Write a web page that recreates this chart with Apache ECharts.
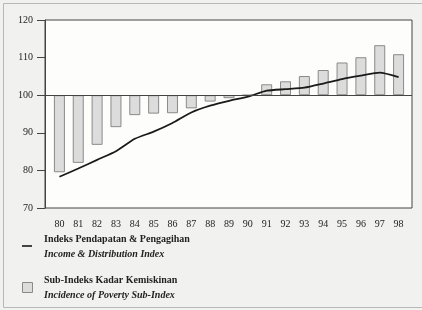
<!DOCTYPE html>
<html>
<head>
<meta charset="utf-8">
<script src="https://cdn.jsdelivr.net/npm/echarts@6/dist/echarts.min.js"></script>
<style>
  html, body { margin: 0; padding: 0; background: #f1f1ef; }
  #chart { width: 422px; height: 310px; }
</style>
</head>
<body>
<div id="chart"></div>
<script>
// years on the x axis
var years = ["80", "81", "82", "83", "84", "85", "86", "87", "88", "89",
             "90", "91", "92", "93", "94", "95", "96", "97", "98"];
// Indeks Pendapatan & Pengagihan (line)
var incomeIndex = [78.3, 80.5, 82.8, 85.1, 88.4, 90.3, 92.6, 95.4, 97.2, 98.5,
                   99.6, 101.2, 101.6, 102.0, 103.1, 104.3, 105.2, 106.0, 104.8];
// Sub-Indeks Kadar Kemiskinan (bars hanging from 100)
var povertyIndex = [79.5, 82.0, 86.8, 91.5, 94.7, 95.1, 95.2, 96.5, 98.3, 99.2,
                    100, 102.9, 103.7, 105.1, 106.7, 108.7, 110.1, 113.3, 110.9];
var baseValue = 100;
var yTicks = [70, 120, 10]; // min, max, interval

var serif = "Liberation Serif";
var ink = "#222";

// bars start at 100, so stack an invisible base under a visible part
var barBase = povertyIndex.map(function (v) { return Math.min(v, baseValue); });
var barPart = povertyIndex.map(function (v) { return Math.abs(v - baseValue); });

var myChart = echarts.init(document.getElementById("chart"));

var option = {
  backgroundColor: "#f1f1ef",
  animation: false,
  grid: [
    // outer frame with the y axis
    { left: 45, top: 20, width: 367, height: 188, show: true,
      backgroundColor: "#fdfdfc", borderColor: "#444", borderWidth: 1 },
    // data area, slightly inset like the original
    { left: 50, top: 20, width: 358, height: 188 }
  ],
  xAxis: [
    { gridIndex: 0, type: "value", min: 0, max: 1, show: false },
    {
      gridIndex: 1, type: "category", data: years,
      axisLine: { show: false }, axisTick: { show: false },
      axisLabel: { fontFamily: serif, fontSize: 10, color: ink, margin: 11 }
    }
  ],
  yAxis: [
    {
      gridIndex: 0, type: "value", min: yTicks[0], max: yTicks[1], interval: yTicks[2],
      axisLine: { show: true, lineStyle: { color: "#444" } },
      axisTick: { show: true, length: 8, lineStyle: { color: "#444" } },
      axisLabel: { fontFamily: serif, fontSize: 10, color: ink, margin: 12 },
      splitLine: { show: false }
    },
    {
      gridIndex: 1, type: "value", min: yTicks[0], max: yTicks[1], interval: yTicks[2],
      show: false, splitLine: { show: false }
    }
  ],
  series: [
    {
      // reference line at 100 across the whole frame
      type: "line", xAxisIndex: 0, yAxisIndex: 0, data: [],
      markLine: {
        silent: true, symbol: "none", label: { show: false },
        lineStyle: { color: "#444", width: 1, type: "solid" },
        data: [{ yAxis: baseValue }]
      }
    },
    {
      name: "base", type: "bar", stack: "p", xAxisIndex: 1, yAxisIndex: 1,
      barWidth: 11, itemStyle: { color: "transparent" },
      data: barBase
    },
    {
      name: "Sub-Indeks Kadar Kemiskinan", type: "bar", stack: "p",
      xAxisIndex: 1, yAxisIndex: 1, barWidth: 11,
      itemStyle: { color: "#dcdcdc", borderColor: "#8a8a8a", borderWidth: 1 },
      data: barPart
    },
    {
      name: "Indeks Pendapatan & Pengagihan", type: "line",
      xAxisIndex: 1, yAxisIndex: 1, smooth: 0.2, symbol: "none",
      lineStyle: { color: "#1a1a1a", width: 1.8 },
      data: incomeIndex
    }
  ],
  graphic: [
    // outer frame of the figure
    { type: "rect", shape: { x: 3.5, y: 3.5, width: 430, height: 304 },
      style: { fill: "none", stroke: "#b8b8b8", lineWidth: 1 }, z: -1 },
    // legend
    { type: "line", shape: { x1: 22, y1: 246, x2: 32, y2: 246 },
      style: { stroke: "#1a1a1a", lineWidth: 1.6 } },
    { type: "text", left: 44, top: 234,
      style: { text: "Indeks Pendapatan & Pengagihan", fill: ink,
               font: "bold 10px 'Liberation Serif'" } },
    { type: "text", left: 44, top: 249,
      style: { text: "Income & Distribution Index", fill: ink,
               font: "italic bold 10px 'Liberation Serif'" } },
    { type: "rect", shape: { x: 22.5, y: 282.5, width: 10, height: 10 },
      style: { fill: "#dcdcdc", stroke: "#8a8a8a", lineWidth: 1 } },
    { type: "text", left: 44, top: 275,
      style: { text: "Sub-Indeks Kadar Kemiskinan", fill: ink,
               font: "bold 10px 'Liberation Serif'" } },
    { type: "text", left: 44, top: 290,
      style: { text: "Incidence of Poverty Sub-Index", fill: ink,
               font: "italic bold 10px 'Liberation Serif'" } }
  ]
};

myChart.setOption(option);
</script>
</body>
</html>
